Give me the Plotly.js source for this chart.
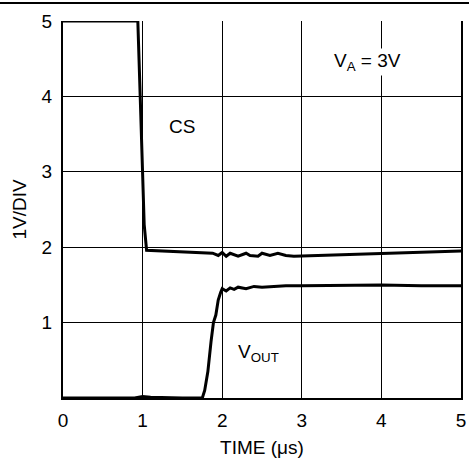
<!DOCTYPE html>
<html><head><meta charset="utf-8">
<script src="https://cdn.plot.ly/plotly-3.0.1.min.js"></script>
<style>html,body{margin:0;padding:0;background:#fff}</style>
</head><body><div id="chart" style="width:469px;height:463px"></div>
<script>
const csTime = [0, 0.5, 0.94, 0.97, 1.0, 1.02, 1.05, 1.3, 1.6, 1.88, 1.95, 2.0, 2.05, 2.1, 2.2, 2.3, 2.35, 2.45, 2.5, 2.6, 2.7, 2.8, 2.9, 3.2, 3.6, 4.0, 4.5, 5.0];
const csVolts = [5, 5, 5, 4.0, 3.0, 2.3, 1.96, 1.95, 1.93, 1.92, 1.89, 1.93, 1.88, 1.92, 1.88, 1.92, 1.89, 1.88, 1.92, 1.89, 1.92, 1.89, 1.88, 1.89, 1.90, 1.91, 1.93, 1.95];
const voutTime = [0, 0.9, 1.0, 1.1, 1.5, 1.75, 1.78, 1.82, 1.86, 1.89, 1.92, 1.95, 1.98, 2.0, 2.05, 2.1, 2.15, 2.2, 2.3, 2.4, 2.5, 2.6, 2.8, 3.0, 3.5, 4.0, 4.5, 5.0];
const voutVolts = [0, 0, 0.02, 0.01, 0.0, 0.0, 0.1, 0.35, 0.75, 1.0, 1.1, 1.3, 1.4, 1.45, 1.42, 1.46, 1.44, 1.47, 1.45, 1.48, 1.47, 1.48, 1.49, 1.49, 1.5, 1.5, 1.49, 1.49];
const xTicks = [0, 1, 2, 3, 4, 5];
const yTicks = [1, 2, 3, 4, 5];

const lineStyle = {color: '#000', width: 3};
const data = [
  {x: csTime, y: csVolts, mode: 'lines', line: lineStyle, name: 'CS'},
  {x: voutTime, y: voutVolts, mode: 'lines', line: lineStyle, name: 'VOUT'}
];
const font = {family: 'Liberation Sans, Arial, sans-serif', size: 19, color: '#000'};
const layout = {
  width: 469, height: 463,
  margin: {l: 63, r: 8, t: 21, b: 65},
  showlegend: false,
  paper_bgcolor: '#fff', plot_bgcolor: '#fff',
  font: font,
  xaxis: {
    range: [0, 5], tickvals: xTicks, ticktext: xTicks.map(String),
    showgrid: true, gridcolor: '#000', gridwidth: 1,
    showline: true, linecolor: '#000', linewidth: 2,
    zeroline: false, ticks: '', fixedrange: true, ticklabelstandoff: 4,
    tickfont: font,
    title: {text: 'TIME (μs)', font: font, standoff: 11}
  },
  yaxis: {
    range: [0, 5], tickvals: yTicks, ticktext: yTicks.map(String),
    showgrid: true, gridcolor: '#000', gridwidth: 1,
    showline: true, mirror: true, linecolor: '#000', linewidth: 2,
    zeroline: false, ticks: '', fixedrange: true, ticklabelstandoff: 5,
    tickfont: font,
    title: {text: '1V/DIV', font: font, standoff: 10}
  },
  annotations: [
    {x: 1.5, y: 3.6, text: 'CS', showarrow: false, font: font},
    {x: 3.82, y: 4.45, text: 'V<sub>A</sub> = 3V', showarrow: false, font: font, bgcolor: '#fff'},
    {x: 2.45, y: 0.6, text: 'V<sub>OUT</sub>', showarrow: false, font: font, bgcolor: '#fff'}
  ],
  shapes: [
    {type: 'line', xref: 'paper', yref: 'paper', x0: -0.2, x1: 1.1, y0: 1.0477, y1: 1.0477, line: {color: '#000', width: 2}}
  ]
};
Plotly.newPlot('chart', data, layout, {displayModeBar: false, staticPlot: true});
</script></body></html>
